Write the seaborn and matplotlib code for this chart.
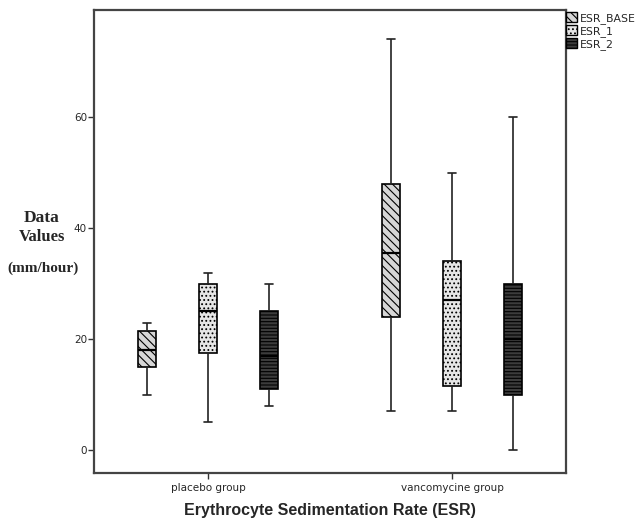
import numpy as np
import pandas as pd
import matplotlib
matplotlib.use("Agg")
import matplotlib.pyplot as plt
import seaborn as sns
from matplotlib.patches import Patch

# five-number summaries: min, Q1, median, Q3, max
groups = ["placebo group", "vancomycine group"]
measures = ["ESR_BASE", "ESR_1", "ESR_2"]
placebo_base = [10, 15, 18, 21.5, 23]
placebo_1 = [5, 17.5, 25, 30, 32]
placebo_2 = [8, 11, 17, 25, 30]
vanco_base = [7, 24, 35.5, 48, 74]
vanco_1 = [7, 11.5, 27, 34, 50]
vanco_2 = [0, 10, 20, 30, 60]

rows = []
for g, series in zip(groups, [[placebo_base, placebo_1, placebo_2],
                              [vanco_base, vanco_1, vanco_2]]):
    for m, vals in zip(measures, series):
        for v in vals:
            rows.append({"group": g, "measure": m, "value": v})
df = pd.DataFrame(rows)

sns.set_style("white")
plt.rcParams["hatch.linewidth"] = 0.8

fills = {"ESR_BASE": "#d6d6d6", "ESR_1": "#e6e6e6", "ESR_2": "#3c3c3c"}
hatches = {"ESR_BASE": "\\\\\\\\", "ESR_1": "....", "ESR_2": "-----"}

fig = plt.figure(figsize=(6.39, 5.22), dpi=100)
ax = fig.add_axes([94 / 639, 49 / 522, 472 / 639, 463 / 522])

sns.boxplot(data=df, x="group", y="value", hue="measure", order=groups,
            hue_order=measures, palette=fills, whis=(0, 100), width=0.75,
            gap=0.72, linewidth=1.2, linecolor="#222222", fliersize=0,
            saturation=1, legend=False, ax=ax,
            medianprops={"color": "black", "linewidth": 1.6})

lookup = {matplotlib.colors.to_hex(c): m for m, c in fills.items()}
for p in ax.patches:
    m = lookup.get(matplotlib.colors.to_hex(p.get_facecolor()))
    if m:
        p.set_hatch(hatches[m])
        p.set_edgecolor("black")

ax.set_xlim(-0.467, 1.467)
ax.set_ylim(-4.1, 79.3)
ax.set_yticks([0, 20, 40, 60])
ax.set_xlabel("")
ax.set_ylabel("")
ax.tick_params(axis="both", direction="out", length=4, width=1, color="#333333",
               labelsize=7.5, left=True, bottom=True)
ax.tick_params(axis="y", pad=1)
for s in ax.spines.values():
    s.set_color("#444444")
    s.set_linewidth(1.6)

handles = [Patch(facecolor=fills[m], edgecolor="black", hatch=hatches[m], label=m)
           for m in measures]
ax.legend(handles=handles, loc="upper left", bbox_to_anchor=(0.995, 1.0),
          frameon=False, fontsize=7.8, handlelength=1.0, handleheight=1.0,
          handletextpad=0.3, labelspacing=0.15, borderaxespad=0.0,
          borderpad=0.2)

serif = ["Liberation Serif", "DejaVu Serif"]
fig.text(42 / 639, 1 - 218 / 522, "Data", ha="center", va="center",
         fontsize=12.5, fontweight="bold", family=serif)
fig.text(42 / 639, 1 - 237 / 522, "Values", ha="center", va="center",
         fontsize=12, fontweight="bold", family=serif)
fig.text(43 / 639, 1 - 268 / 522, "(mm/hour)", ha="center", va="center",
         fontsize=11, fontweight="bold", family=serif)
fig.text(330 / 639, 1 - 510 / 522, "Erythrocyte Sedimentation Rate (ESR)",
         ha="center", va="center", fontsize=11.5, fontweight="bold",
         family=["Liberation Sans", "DejaVu Sans"])

fig.savefig("out.png", dpi=100)
